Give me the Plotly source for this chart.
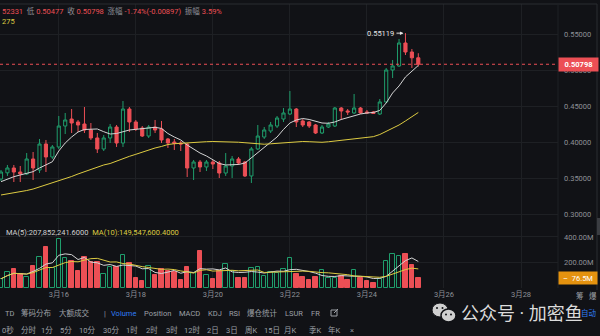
import pandas as pd
import plotly.graph_objects as go

# 4-hour candles, first bar opens 2025-03-14 12:00
bar_start = pd.Timestamp("2025-03-14 12:00")
bar_step = pd.Timedelta(hours=4)

opens = [0.3486, 0.3572, 0.3639, 0.3583, 0.3556, 0.3764, 0.3611, 0.3972, 0.3792, 0.3931,
         0.4222, 0.4319, 0.4278, 0.4250, 0.4167, 0.4056, 0.3903, 0.4056, 0.4208, 0.3986,
         0.4458, 0.4278, 0.4194, 0.4083, 0.4208, 0.4181, 0.4042, 0.4000, 0.3986, 0.3972,
         0.3639, 0.3722, 0.3653, 0.3722, 0.3708, 0.3569, 0.3667, 0.3764, 0.3722, 0.3528,
         0.3903, 0.4069, 0.4153, 0.4222, 0.4319, 0.4389, 0.4458, 0.4292, 0.4278, 0.4236,
         0.4125, 0.4208, 0.4222, 0.4472, 0.4431, 0.4403, 0.4472, 0.4417, 0.4417, 0.4389,
         0.4556, 0.5000, 0.5056, 0.5375, 0.5250, 0.51695]
highs = [0.3611, 0.3681, 0.3681, 0.3667, 0.3847, 0.3861, 0.4042, 0.4028, 0.3958, 0.4361,
         0.4403, 0.4458, 0.4306, 0.4486, 0.4264, 0.4125, 0.4097, 0.4250, 0.4236, 0.4569,
         0.4486, 0.4306, 0.4222, 0.4236, 0.4306, 0.4292, 0.4056, 0.4042, 0.4014, 0.3986,
         0.3750, 0.3750, 0.3750, 0.3750, 0.3736, 0.3847, 0.3806, 0.3792, 0.3736, 0.3931,
         0.4236, 0.4208, 0.4278, 0.4361, 0.4472, 0.4708, 0.4472, 0.4319, 0.4292, 0.4250,
         0.4236, 0.4278, 0.4486, 0.4486, 0.4458, 0.4667, 0.4486, 0.4444, 0.4431, 0.4597,
         0.5028, 0.5139, 0.5431, 0.55119, 0.5292, 0.52331]
lows = [0.3458, 0.3528, 0.3444, 0.3444, 0.3542, 0.3472, 0.3569, 0.3583, 0.3764, 0.3903,
        0.4111, 0.4125, 0.4139, 0.4125, 0.4028, 0.3847, 0.3875, 0.3986, 0.3931, 0.3931,
        0.4139, 0.4153, 0.4069, 0.4056, 0.4125, 0.3986, 0.3917, 0.3889, 0.3875, 0.3514,
        0.3472, 0.3583, 0.3597, 0.3625, 0.3500, 0.3528, 0.3500, 0.3681, 0.3514, 0.3431,
        0.3889, 0.4042, 0.4125, 0.4194, 0.4278, 0.4375, 0.4208, 0.4208, 0.4194, 0.4111,
        0.4111, 0.4194, 0.4208, 0.4306, 0.4375, 0.4389, 0.4389, 0.4389, 0.4389, 0.4375,
        0.4542, 0.4889, 0.5042, 0.5208, 0.5028, 0.50477]
closes = [0.3583, 0.3639, 0.3583, 0.3556, 0.3764, 0.3639, 0.3972, 0.3792, 0.3931, 0.4222,
          0.4306, 0.4264, 0.4236, 0.4167, 0.4056, 0.3903, 0.4056, 0.4208, 0.3986, 0.4458,
          0.4278, 0.4181, 0.4083, 0.4208, 0.4167, 0.4028, 0.3986, 0.3979, 0.3972, 0.3639,
          0.3722, 0.3653, 0.3722, 0.3694, 0.3569, 0.3667, 0.3764, 0.3708, 0.3528, 0.3903,
          0.4083, 0.4167, 0.4236, 0.4333, 0.4403, 0.4458, 0.4278, 0.4236, 0.4222, 0.4125,
          0.4208, 0.4250, 0.4472, 0.4431, 0.4417, 0.4472, 0.4403, 0.4403, 0.4396, 0.4556,
          0.5000, 0.5056, 0.5375, 0.5250, 0.51695, 0.50798]

# traded volume per bar, in millions
volumes_m = [72, 122, 152, 112, 88, 176, 242, 320, 160, 384,
             232, 210, 130, 242, 202, 202, 112, 162, 168, 256,
             194, 80, 56, 176, 104, 152, 136, 122, 64, 168,
             114, 290, 104, 72, 130, 190, 136, 80, 80, 160,
             168, 98, 122, 114, 152, 232, 112, 85, 64, 90,
             138, 80, 80, 98, 64, 138, 76, 56, 37, 72.214796,
             215, 270, 250, 265, 177.761208, 76.5]

# price moving averages (white = fast, yellow = slow)
ma_fast = [0.3449, 0.3486, 0.3518, 0.3542, 0.3569, 0.3588, 0.3639, 0.3681, 0.3726, 0.3875,
           0.3986, 0.4069, 0.4139, 0.4174, 0.4181, 0.4181, 0.4143, 0.4111, 0.4118, 0.4146,
           0.4167, 0.4176, 0.4188, 0.4194, 0.4204, 0.4188, 0.4118, 0.4069, 0.4028, 0.3958,
           0.3903, 0.3847, 0.3806, 0.3750, 0.3701, 0.3681, 0.3681, 0.3688, 0.3708, 0.3778,
           0.3861, 0.3924, 0.4000, 0.4069, 0.4174, 0.4264, 0.4306, 0.4326, 0.4313, 0.4285,
           0.4264, 0.4260, 0.4278, 0.4313, 0.4338, 0.4368, 0.4389, 0.4403, 0.4410, 0.4438,
           0.4542, 0.4681, 0.4778, 0.4903, 0.4986, 0.5063]
ma_slow = [0.3264, 0.3278, 0.3292, 0.3306, 0.3326, 0.3347, 0.3375, 0.3403, 0.3431, 0.3458,
           0.3493, 0.3521, 0.3556, 0.3590, 0.3618, 0.3653, 0.3681, 0.3701, 0.3736, 0.3771,
           0.3801, 0.3829, 0.3861, 0.3889, 0.3917, 0.3938, 0.3965, 0.3976, 0.3982, 0.3996,
           0.4000, 0.4003, 0.4004, 0.4007, 0.4007, 0.4004, 0.4003, 0.3997, 0.3990, 0.3982,
           0.3972, 0.3969, 0.3975, 0.3982, 0.3990, 0.3997, 0.4004, 0.4007, 0.4004, 0.3997,
           0.3996, 0.4003, 0.4014, 0.4021, 0.4031, 0.4042, 0.4051, 0.4060, 0.4074, 0.4104,
           0.4146, 0.4188, 0.4236, 0.4292, 0.4354, 0.4410]

date_ticks = ["2025-03-16", "2025-03-18", "2025-03-20", "2025-03-22",
              "2025-03-24", "2025-03-26", "2025-03-28"]
date_labels = ["3月16", "3月18", "3月20", "3月22", "3月24", "3月26", "3月28"]
price_ticks = [0.30, 0.35, 0.40, 0.45, 0.50, 0.55]
volume_ticks = [200e6, 400e6]
volume_tick_labels = ["200.00M", "400.00M"]

toolbar_top = [("TD", 3), ("筹码分布", 19), ("大额成交", 57), ("|", 102), ("Volume", 109),
               ("Position", 142), ("MACD", 177), ("KDJ", 206), ("RSI", 227),
               ("爆仓统计", 245), ("LSUR", 283), ("FR", 309)]
toolbar_bottom = [("0秒", 0), ("分时", 19), ("1分", 39), ("5分", 58), ("10分", 77),
                  ("30分", 101), ("1时", 124), ("2时", 144), ("3时", 164), ("12时", 182),
                  ("2日", 205), ("3日", 224), ("周K", 243), ("15日", 262), ("月K", 282),
                  ("季K", 307), ("年K", 326), ("×", 348)]

# ---- styling ----
BG = "#111216"
GRID = "#1e2024"
RED = "#ec4f55"
GREEN = "#1f9e6c"
WHITE_LINE = "#d4d4d4"
YELLOW = "#ddcb42"
AXIS_TXT = "#8e9197"
UI_TXT = "#9da0a6"
BLUE = "#2f7cf4"
ORANGE = "#e4920f"
FONT = "Roboto, 'Noto Sans CJK SC', sans-serif"
FS = 7.5

W, H = 600, 336
ML, MR, MT, MB = 0, 42, 4, 48
PW, PH = W - ML - MR, H - MT - MB


def px(x):
    return (x - ML) / PW


def py(y):
    return (H - MB - y) / PH


times = [bar_start + i * bar_step for i in range(len(opens))]
bar_px = 6.42
x_range = [bar_start - bar_step * (1 / bar_px), bar_start + bar_step * ((PW - 1) / bar_px)]
split = py(226)
price_range = [0.5 - 156 / 720, 0.5 + 66 / 720]
vol_range = [0, 486e6]

vols = [round(v * 1e6) for v in volumes_m]
vol_ma5 = pd.Series(vols).rolling(5, min_periods=1).mean()
vol_ma10 = pd.Series(vols).rolling(10, min_periods=1).mean()
up = [c > o for o, c in zip(opens, closes)]

fig = go.Figure()
fig.add_trace(go.Candlestick(
    x=times, open=opens, high=highs, low=lows, close=closes,
    increasing=dict(line=dict(color=GREEN, width=1), fillcolor=BG),
    decreasing=dict(line=dict(color=RED, width=1), fillcolor=RED),
    whiskerwidth=0, hoverinfo="skip", yaxis="y"))
fig.add_trace(go.Scatter(x=times, y=ma_fast, mode="lines",
                         line=dict(color=WHITE_LINE, width=1), hoverinfo="skip", yaxis="y"))
fig.add_trace(go.Scatter(x=times, y=ma_slow, mode="lines",
                         line=dict(color=YELLOW, width=1), hoverinfo="skip", yaxis="y"))
fig.add_trace(go.Bar(
    x=times, y=vols, width=bar_step.total_seconds() * 1000 * 0.7,
    marker=dict(color=[BG if u else RED for u in up],
                line=dict(color=[GREEN if u else RED for u in up], width=1)),
    hoverinfo="skip", yaxis="y2"))
fig.add_trace(go.Scatter(x=times, y=vol_ma5, mode="lines",
                         line=dict(color=WHITE_LINE, width=1), hoverinfo="skip", yaxis="y2"))
fig.add_trace(go.Scatter(x=times, y=vol_ma10, mode="lines",
                         line=dict(color=YELLOW, width=1), hoverinfo="skip", yaxis="y2"))

shapes = [
    dict(type="line", xref="paper", yref="y", x0=0, x1=1, y0=closes[-1], y1=closes[-1],
         line=dict(color=RED, width=1, dash="3px,3px")),
    dict(type="line", xref="paper", yref="paper", x0=px(0), x1=px(597), y0=py(4), y1=py(4),
         line=dict(color="#2a2c31", width=1)),
    dict(type="line", xref="paper", yref="paper", x0=1, x1=1, y0=py(288), y1=py(4),
         line=dict(color=GRID, width=1)),
    dict(type="line", xref="paper", yref="paper", x0=px(597), x1=px(597), y0=py(290), y1=py(4),
         line=dict(color="#2a2c31", width=1)),
    dict(type="rect", xref="paper", yref="paper", x0=px(597), x1=px(600), y0=py(235), y1=py(218),
         fillcolor="#3a3c41", line=dict(width=0)),
    # edit icon in the toolbar
    dict(type="rect", xref="paper", yref="paper", x0=px(331), x1=px(337), y0=py(316), y1=py(310),
         line=dict(color=UI_TXT, width=1)),
    dict(type="line", xref="paper", yref="paper", x0=px(334), x1=px(338), y0=py(313), y1=py(309),
         line=dict(color=UI_TXT, width=1)),
    # chat icon next to the caption
    dict(type="circle", xref="paper", yref="paper", x0=px(432), x1=px(448), y0=py(317), y1=py(303),
         fillcolor="#cfcfcf", line=dict(color=BG, width=1)),
    dict(type="circle", xref="paper", yref="paper", x0=px(441), x1=px(456), y0=py(322), y1=py(309),
         fillcolor="#cfcfcf", line=dict(color=BG, width=1.5)),
]
for cx, cy in [(437, 308), (442.5, 308), (446, 314.5), (451, 314.5)]:
    shapes.append(dict(type="circle", xref="paper", yref="paper",
                       x0=px(cx - 1), x1=px(cx + 1), y0=py(cy + 1), y1=py(cy - 1),
                       fillcolor=BG, line=dict(width=0)))

prev_close = closes[-2]
change = closes[-1] - prev_close
pct = change / prev_close * 100
amp = (highs[-1] - lows[-1]) / prev_close * 100


def red(s):
    return f"<span style='color:{RED}'>{s}</span>"


header = (f"{red(f'{highs[-1]:.5f}'[2:])}&nbsp; 低 {red(f'{lows[-1]:.5f}')}&nbsp; 收 "
          f"{red(f'{closes[-1]:.5f}')}&nbsp; 涨幅 {red(f'{pct:.2f}%({change:.5f})')}&nbsp; 振幅 "
          f"{red(f'{amp:.2f}%')}")

annotations = [
    dict(xref="paper", yref="paper", x=px(0), y=py(10.5), xanchor="left", yanchor="middle",
         text=header, showarrow=False, font=dict(size=FS, color=AXIS_TXT)),
    dict(xref="paper", yref="paper", x=px(0), y=py(21), xanchor="left", yanchor="middle",
         text="275", showarrow=False, font=dict(size=FS, color=YELLOW)),
    dict(xref="paper", yref="paper", x=px(4), y=py(232), xanchor="left", yanchor="middle",
         text=(f"MA(5):{vol_ma5.iloc[-1]:,.4f}&nbsp; "
               f"<span style='color:{YELLOW}'>MA(10):{vol_ma10.iloc[-1]:,.4f}</span>"),
         showarrow=False, font=dict(size=FS, color="#d0d0d0")),
    dict(xref="paper", yref="y", x=1, y=closes[-1], xanchor="left", yanchor="middle",
         text=f"<b>{closes[-1]:.5f}</b>", showarrow=False, bgcolor=RED, width=37, height=11,
         borderpad=1, font=dict(size=FS, color="white")),
    dict(xref="paper", yref="y2", x=1, y=vols[-1], xanchor="left", yanchor="middle",
         text=f"–&nbsp; {vols[-1] / 1e6:.1f}M", showarrow=False, bgcolor=ORANGE, width=36,
         height=10, borderpad=1, font=dict(size=FS, color="white")),
]
hi_idx = max(range(len(highs)), key=lambda i: highs[i])
annotations.append(dict(
    xref="x", yref="y", x=times[hi_idx], y=highs[hi_idx], text=f"{highs[hi_idx]:.5f}",
    showarrow=True, ax=-9, ay=0, xanchor="right", yanchor="middle", standoff=2,
    arrowhead=2, arrowsize=0.7, arrowwidth=1, arrowcolor="#e6e6e6",
    font=dict(size=FS, color="#e6e6e6")))

for label, x in toolbar_top:
    annotations.append(dict(xref="paper", yref="paper", x=px(x), y=py(313), xanchor="left",
                            yanchor="middle", text=label, showarrow=False,
                            font=dict(size=FS, color=BLUE if label == "Volume" else UI_TXT)))
for label, x in toolbar_bottom:
    annotations.append(dict(xref="paper", yref="paper", x=px(x), y=py(330), xanchor="left",
                            yanchor="middle", text=label, showarrow=False,
                            font=dict(size=FS, color=UI_TXT)))
for label, x in [("筹", 574), ("爆", 587)]:
    annotations.append(dict(xref="paper", yref="paper", x=px(x), y=py(296), xanchor="left",
                            yanchor="middle", text=label, showarrow=False,
                            font=dict(size=FS, color=UI_TXT)))
annotations.append(dict(xref="paper", yref="paper", x=px(579), y=py(313), xanchor="left",
                        yanchor="middle", text="自动", showarrow=False,
                        font=dict(size=FS, color=BLUE)))
annotations.append(dict(xref="paper", yref="paper", x=px(459), y=py(313), xanchor="left",
                        yanchor="middle", text="公众号 · 加密鱼", showarrow=False,
                        font=dict(size=18, color="#dcdcdc")))

fig.update_layout(
    width=W, height=H, margin=dict(l=ML, r=MR, t=MT, b=MB),
    paper_bgcolor=BG, plot_bgcolor=BG, showlegend=False, bargap=0,
    font=dict(family=FONT, size=FS, color=AXIS_TXT),
    xaxis=dict(type="date", range=x_range, anchor="y2", tickvals=date_ticks,
               ticktext=date_labels, showgrid=True, gridcolor=GRID, gridwidth=1,
               zeroline=False, showline=False, ticks="",
               tickfont=dict(size=FS, color=AXIS_TXT), rangeslider=dict(visible=False)),
    yaxis=dict(domain=[split, 1], range=price_range, side="right", anchor="x",
               tickvals=price_ticks, tickformat=".5f", showgrid=True, gridcolor=GRID,
               zeroline=False, showline=False, ticks="", ticklabelstandoff=5,
               tickfont=dict(size=FS, color=AXIS_TXT)),
    yaxis2=dict(domain=[0, split], range=vol_range, side="right", anchor="x",
                tickvals=volume_ticks, ticktext=volume_tick_labels, showgrid=True,
                gridcolor=GRID, zeroline=False, showline=False, ticks="", ticklabelstandoff=5,
                tickfont=dict(size=FS, color=AXIS_TXT)),
    shapes=shapes, annotations=annotations,
)

fig.write_html("out.html")
